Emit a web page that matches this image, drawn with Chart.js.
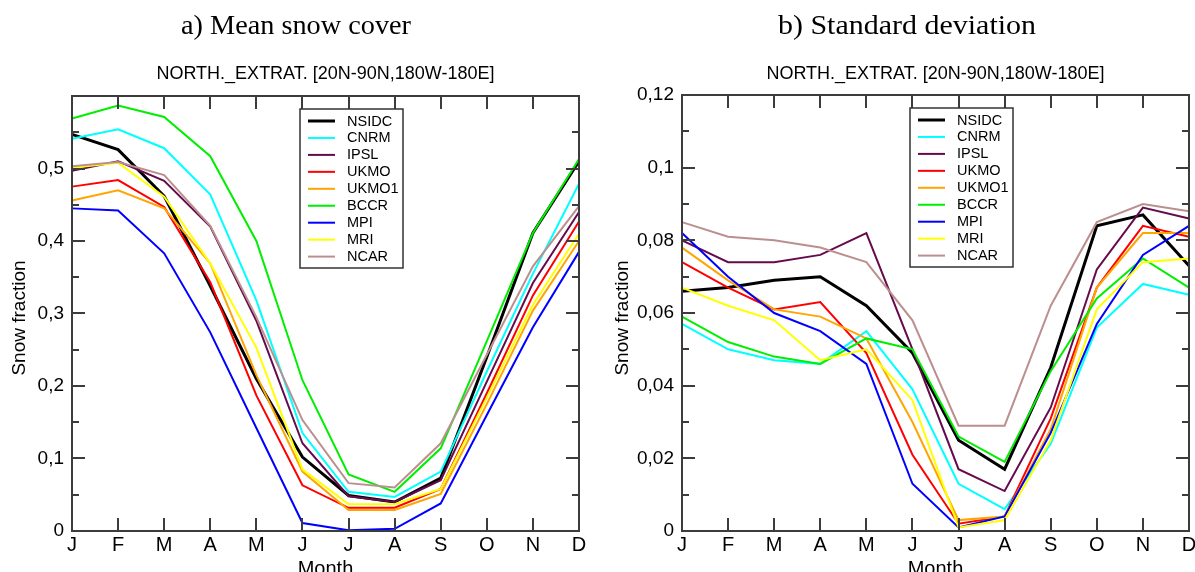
<!DOCTYPE html>
<html>
<head>
<meta charset="utf-8">
<script src="https://cdn.jsdelivr.net/npm/chart.js@4.4.1/dist/chart.umd.min.js"></script>
<style>
  html, body { margin: 0; padding: 0; background: #fff; overflow: hidden; }
  #wrap { position: relative; width: 1195px; height: 572px; }
  #c1 { position: absolute; left: 0; top: 0; }
  #c2 { position: absolute; left: 597px; top: 0; }
</style>
</head>
<body>
<div id="wrap">
  <canvas id="c1" width="597" height="572"></canvas>
  <canvas id="c2" width="598" height="572"></canvas>
</div>
<script>
// data
const months = ['J', 'F', 'M', 'A', 'M', 'J', 'J', 'A', 'S', 'O', 'N', 'D'];
const models = ['NSIDC', 'CNRM', 'IPSL', 'UKMO', 'UKMO1', 'BCCR', 'MPI', 'MRI', 'NCAR'];
const colors = ['#000000', '#00ffff', '#660a4e', '#ff0000', '#ffa500', '#00ee00', '#0000ff', '#ffff00', '#bc8f8f'];

// a) mean snow cover
const meanNSIDC = [0.547, 0.526, 0.462, 0.338, 0.210, 0.102, 0.049, 0.040, 0.073, 0.240, 0.411, 0.510];
const meanCNRM  = [0.541, 0.554, 0.528, 0.464, 0.318, 0.135, 0.054, 0.047, 0.082, 0.220, 0.355, 0.479];
const meanIPSL  = [0.497, 0.510, 0.483, 0.420, 0.290, 0.121, 0.048, 0.040, 0.070, 0.206, 0.342, 0.440];
const meanUKMO  = [0.475, 0.484, 0.447, 0.343, 0.187, 0.063, 0.032, 0.032, 0.058, 0.190, 0.325, 0.427];
const meanUKMO1 = [0.456, 0.470, 0.445, 0.369, 0.215, 0.082, 0.029, 0.029, 0.051, 0.175, 0.304, 0.400];
const meanBCCR  = [0.569, 0.587, 0.571, 0.517, 0.400, 0.208, 0.078, 0.054, 0.114, 0.262, 0.411, 0.513];
const meanMPI   = [0.445, 0.442, 0.383, 0.274, 0.142, 0.011, 0.001, 0.003, 0.038, 0.160, 0.281, 0.385];
const meanMRI   = [0.501, 0.508, 0.461, 0.369, 0.253, 0.085, 0.037, 0.037, 0.058, 0.184, 0.312, 0.410];
const meanNCAR  = [0.503, 0.509, 0.491, 0.421, 0.295, 0.153, 0.066, 0.060, 0.121, 0.243, 0.365, 0.448];

// b) standard deviation
const sdNSIDC = [0.066, 0.067, 0.069, 0.070, 0.062, 0.049, 0.025, 0.017, 0.045, 0.084, 0.087, 0.073];
const sdCNRM  = [0.057, 0.050, 0.047, 0.046, 0.055, 0.039, 0.013, 0.006, 0.024, 0.056, 0.068, 0.065];
const sdIPSL  = [0.080, 0.074, 0.074, 0.076, 0.082, 0.050, 0.017, 0.011, 0.034, 0.072, 0.089, 0.086];
const sdUKMO  = [0.074, 0.067, 0.061, 0.063, 0.049, 0.021, 0.002, 0.004, 0.031, 0.067, 0.084, 0.081];
const sdUKMO1 = [0.078, 0.069, 0.061, 0.059, 0.053, 0.030, 0.003, 0.004, 0.028, 0.067, 0.082, 0.082];
const sdBCCR  = [0.059, 0.052, 0.048, 0.046, 0.053, 0.050, 0.026, 0.019, 0.044, 0.064, 0.075, 0.067];
const sdMPI   = [0.082, 0.070, 0.060, 0.055, 0.046, 0.013, 0.001, 0.004, 0.027, 0.057, 0.076, 0.084];
const sdMRI   = [0.067, 0.062, 0.058, 0.047, 0.050, 0.036, 0.001, 0.003, 0.025, 0.061, 0.074, 0.075];
const sdNCAR  = [0.085, 0.081, 0.080, 0.078, 0.074, 0.058, 0.029, 0.029, 0.062, 0.085, 0.090, 0.088];

const meanSeries = [meanNSIDC, meanCNRM, meanIPSL, meanUKMO, meanUKMO1, meanBCCR, meanMPI, meanMRI, meanNCAR];
const sdSeries = [sdNSIDC, sdCNRM, sdIPSL, sdUKMO, sdUKMO1, sdBCCR, sdMPI, sdMRI, sdNCAR];

const subtitle = 'NORTH._EXTRAT. [20N-90N,180W-180E]';
const SANS = '"Liberation Sans", Arial, sans-serif';
const SERIF = '"Liberation Serif", "Times New Roman", serif';

Chart.defaults.font.family = SANS;
Chart.defaults.color = '#000';

// frame, inward ticks, legend box and titles
const decoPlugin = {
  id: 'deco',
  afterDatasetsDraw(chart, args, o) {
    const { ctx, chartArea: a, scales: { x, y } } = chart;
    ctx.save();
    ctx.strokeStyle = '#3c3c3c';
    ctx.lineWidth = 2;
    ctx.strokeRect(a.left, a.top, a.right - a.left, a.bottom - a.top);

    // y ticks (left and right)
    const n = Math.round(o.yMax / o.minor);
    const every = Math.round(o.major / o.minor);
    ctx.beginPath();
    for (let i = 1; i < n; i++) {
      const py = Math.round(y.getPixelForValue(i * o.minor));
      const len = i % every === 0 ? 13 : 7;
      ctx.moveTo(a.left, py); ctx.lineTo(a.left + len, py);
      ctx.moveTo(a.right, py); ctx.lineTo(a.right - len, py);
    }
    // x ticks (bottom and top)
    for (let i = 1; i < months.length - 1; i++) {
      const px = Math.round(x.getPixelForValue(i));
      ctx.moveTo(px, a.bottom); ctx.lineTo(px, a.bottom - 13);
      ctx.moveTo(px, a.top); ctx.lineTo(px, a.top + 13);
    }
    ctx.stroke();

    // legend box
    const bx = a.left + 228, by = a.top + 13, bw = 103, bh = 159;
    ctx.fillStyle = '#fff';
    ctx.fillRect(bx, by, bw, bh);
    ctx.lineWidth = 1.5;
    ctx.strokeStyle = '#333';
    ctx.strokeRect(bx, by, bw, bh);
    ctx.font = '14.5px ' + SANS;
    ctx.textBaseline = 'middle';
    ctx.textAlign = 'left';
    chart.data.datasets.forEach((ds, i) => {
      const ry = by + 12 + i * 16.95;
      ctx.strokeStyle = ds.borderColor;
      ctx.lineWidth = ds.borderWidth;
      ctx.beginPath();
      ctx.moveTo(bx + 8, ry); ctx.lineTo(bx + 35, ry);
      ctx.stroke();
      ctx.fillStyle = '#000';
      ctx.fillText(ds.label, bx + 47, ry + 0.5);
    });
    ctx.restore();
  },
  afterDraw(chart, args, o) {
    const { ctx, chartArea: a } = chart;
    const cx = (a.left + a.right) / 2;
    ctx.save();
    ctx.fillStyle = '#000';
    ctx.textAlign = 'center';
    ctx.textBaseline = 'alphabetic';

    // heading in serif
    ctx.font = '28px ' + SERIF;
    const w = ctx.measureText(o.heading).width;
    ctx.save();
    ctx.translate(o.headX, 34);
    ctx.scale(o.headW / w, 1);
    ctx.fillText(o.heading, 0, 0);
    ctx.restore();

    ctx.font = '18px ' + SANS;
    ctx.fillText(subtitle, cx, 79);

    ctx.font = '20px ' + SANS;
    ctx.fillText('Month', cx, 575);

    ctx.font = '19px ' + SANS;
    ctx.translate(o.yTitleX, 318);
    ctx.rotate(-Math.PI / 2);
    ctx.textBaseline = 'middle';
    ctx.fillText('Snow fraction', 0, 0);
    ctx.restore();
  }
};

function fmt(v) {
  return String(Math.round(v * 100) / 100).replace('.', ',');
}

function buildChart(id, series, p) {
  const datasets = series.map((vals, i) => ({
    label: models[i],
    data: vals,
    borderColor: colors[i],
    borderWidth: i === 0 ? 3 : 2,
    pointRadius: 0,
    tension: 0,
    fill: false,
    order: series.length - i
  }));
  return new Chart(document.getElementById(id), {
    type: 'line',
    data: { labels: months, datasets },
    plugins: [decoPlugin],
    options: {
      responsive: false,
      animation: false,
      devicePixelRatio: 1,
      layout: { padding: { top: p.top, right: p.right, left: 0, bottom: 0 } },
      plugins: {
        legend: { display: false },
        tooltip: { enabled: false },
        deco: p.deco
      },
      scales: {
        x: {
          type: 'category',
          offset: false,
          grid: { display: false, drawTicks: false },
          border: { display: false },
          ticks: { font: { size: 20 }, color: '#000', padding: 2, maxRotation: 0, autoSkip: false },
          afterFit(s) { s.height = 41; s.paddingLeft = 0; s.paddingRight = 0; }
        },
        y: {
          min: 0,
          max: p.yMax,
          grid: { display: false, drawTicks: false },
          border: { display: false },
          ticks: {
            stepSize: p.deco.major,
            font: { size: 19 },
            color: '#000',
            padding: 8,
            callback: v => (p.hideTop && Math.abs(v - p.yMax) < 1e-9) ? '' : fmt(v)
          },
          afterFit(s) { s.width = p.yWidth; s.paddingTop = 0; s.paddingBottom = 0; }
        }
      }
    }
  });
}

buildChart('c1', meanSeries, {
  top: 96, right: 18, yWidth: 72, yMax: 0.6, hideTop: true,
  deco: { yMax: 0.6, major: 0.1, minor: 0.05, heading: 'a) Mean snow cover', headX: 296, headW: 230, yTitleX: 20 }
});

buildChart('c2', sdSeries, {
  top: 95, right: 6, yWidth: 85, yMax: 0.12, hideTop: false,
  deco: { yMax: 0.12, major: 0.02, minor: 0.01, heading: 'b) Standard deviation', headX: 310, headW: 258, yTitleX: 26 }
});
</script>
</body>
</html>
